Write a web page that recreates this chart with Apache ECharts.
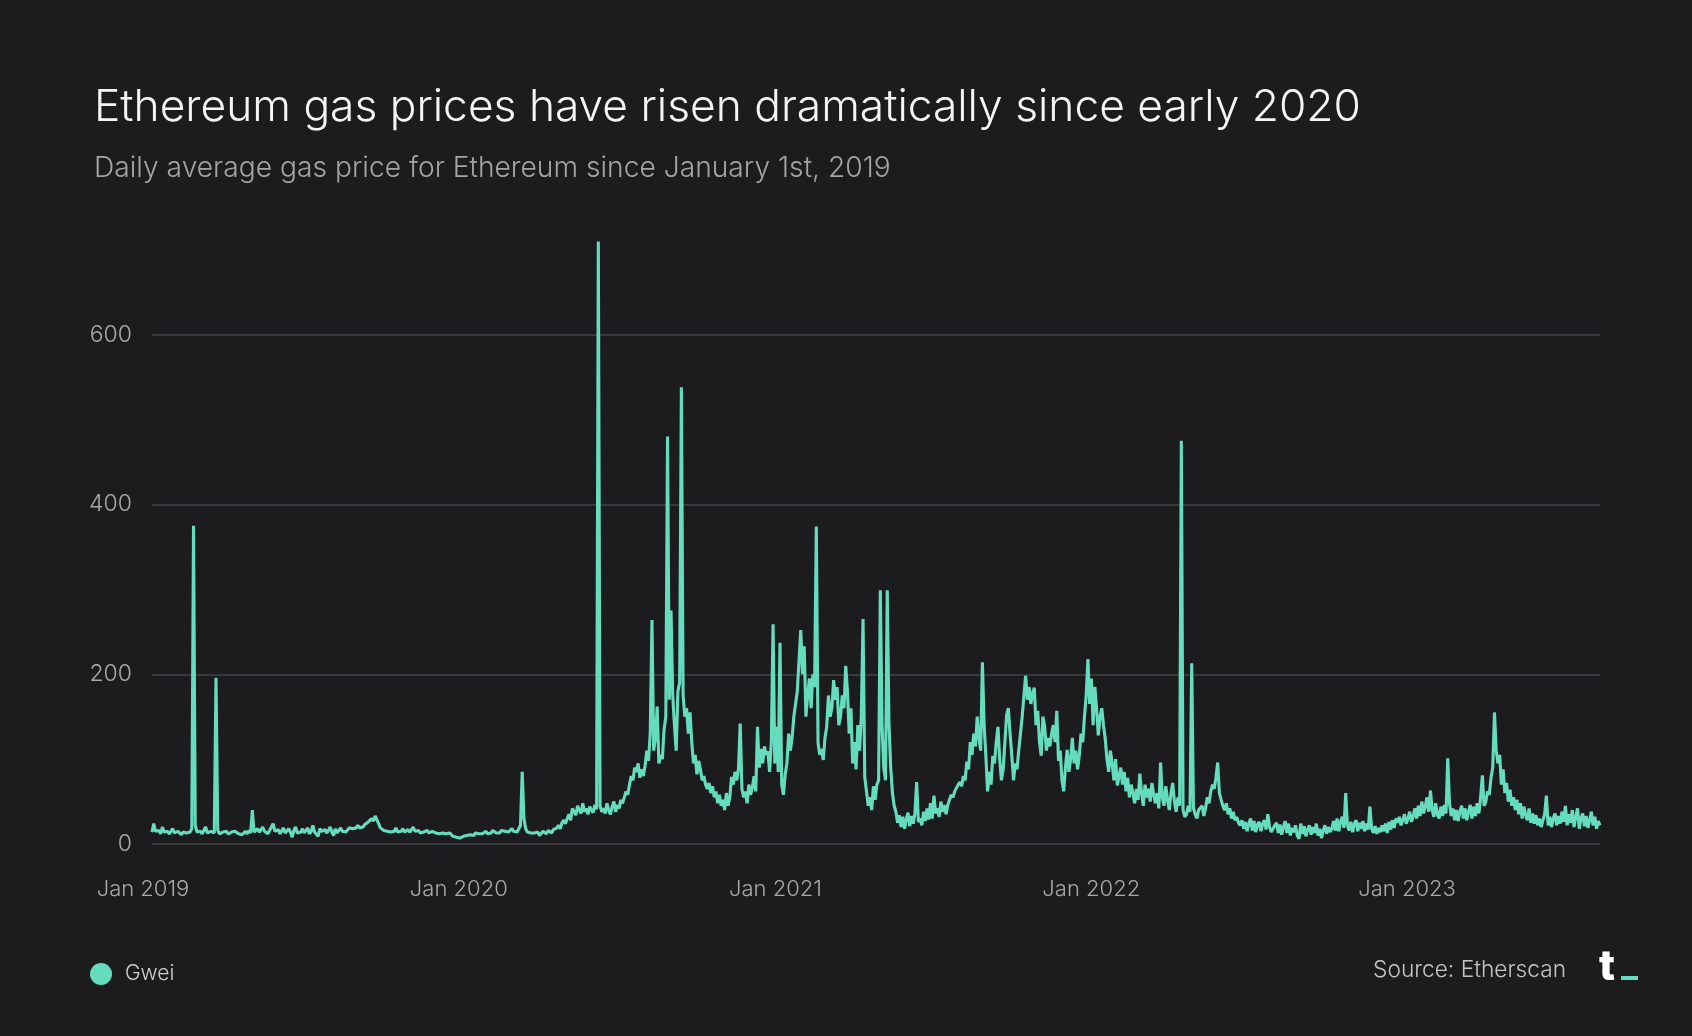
<!DOCTYPE html>
<html>
<head>
<meta charset="utf-8">
<script src="https://cdn.jsdelivr.net/npm/echarts@6/dist/echarts.min.js"></script>
<style>
html,body{margin:0;padding:0;background:#1c1c1e;}
#chart{width:1692px;height:1036px;}
</style>
</head>
<body>
<div id="chart"></div>
<script>
// ---- data ----
const titleText = 'Ethereum gas prices have risen dramatically since early 2020';
const subtitleText = 'Daily average gas price for Ethereum since January 1st, 2019';
const seriesName = 'Gwei';
const sourceText = 'Source: Etherscan';
const startDate = [2019, 0, 11];   // first sample (UTC)
const stepDays = 2;                // one sample every two days
const axisStart = [2019, 0, 1];
const axisEnd = [2023, 7, 12];
const yearTicks = [[2019,0,1],[2020,0,1],[2021,0,1],[2022,0,1],[2023,0,1]];
const yearLabels = ['Jan 2019','Jan 2020','Jan 2021','Jan 2022','Jan 2023'];
const yTicks = [0, 200, 400, 600];
const gwei = [
14,24,15,13,16,12,20,14,13,15,
12,14,18,13,12,15,13,11,14,16,
13,15,14,18,375,22,14,13,15,12,
14,20,13,12,15,14,13,196,16,12,
11,14,13,15,12,13,14,12,15,13,
12,14,11,13,15,12,16,13,40,14,
12,18,14,13,20,15,13,12,16,14,
24,15,13,17,12,14,19,13,15,18,
14,8,16,20,13,15,14,18,13,16,
19,12,15,22,14,16,9,18,15,14,
17,13,16,20,14,10,18,13,16,19,
15,17,14,16,19,17,18,20,19,22,
19,21,20,23,24,26,28,30,27,33,
31,24,19,17,16,18,15,17,14,16,
15,19,14,16,15,18,14,15,17,14,
16,20,15,14,16,13,15,14,12,16,
13,12,15,14,13,11,12,14,13,11,
12,10,13,11,9,10,8,9,7,8,
9,8,10,9,11,12,10,13,11,12,
14,12,13,15,12,14,13,16,14,13,
15,13,16,14,15,17,14,16,18,15,
16,14,18,22,85,30,18,14,12,13,
11,13,12,14,10,12,15,13,12,16,
14,13,17,15,19,22,18,25,28,24,
30,35,28,42,38,34,45,40,36,48,
38,42,35,44,40,37,46,41,710,45,
38,42,36,48,40,35,44,50,38,46,
42,52,48,55,62,58,70,80,75,90,
85,95,78,88,80,92,110,98,130,264,
110,125,162,95,105,100,135,150,480,170,
275,175,140,110,180,190,538,175,150,160,
130,155,120,95,105,82,98,88,75,80,
70,65,72,60,68,55,62,48,58,45,
52,40,60,45,55,79,70,85,75,88,
142,65,55,62,48,70,58,66,80,62,
138,90,112,95,115,105,109,85,120,259,
95,138,85,237,70,58,82,95,130,110,
125,150,165,180,178,252,200,233,150,175,
195,160,200,185,374,119,105,112,99,125,
138,175,150,160,193,170,185,140,150,175,
160,210,180,130,160,95,120,88,140,110,
150,265,79,62,45,55,40,68,52,70,
75,299,138,90,75,299,142,90,60,45,
38,25,34,20,32,18,29,37,21,33,
24,36,73,26,30,22,38,27,42,29,
48,30,57,36,42,32,50,38,46,35,
46,52,58,55,62,60,70,73,68,80,
75,97,88,120,105,130,115,150,125,110,
214,140,104,62,85,70,104,95,120,138,
100,75,88,120,152,160,130,104,75,95,
88,110,130,150,175,198,170,185,165,178,
184,140,157,120,104,150,138,110,125,115,
130,140,120,157,98,110,75,62,90,111,
85,100,125,95,110,88,104,130,120,150,
175,218,165,195,140,185,160,128,150,160,
140,124,100,85,110,95,75,100,69,80,
90,70,85,62,78,55,70,60,48,65,
52,83,60,45,70,55,65,50,72,58,
48,60,42,96,55,45,68,52,40,60,
72,50,38,55,45,475,40,32,35,45,
38,213,42,35,30,40,38,45,33,42,
55,48,62,70,65,78,96,60,52,45,
40,48,35,42,30,38,28,32,25,22,
28,18,26,15,24,30,16,27,14,23,
26,15,24,28,17,35,20,14,18,22,
25,13,23,11,20,27,13,24,10,19,
14,22,10,6,24,12,21,9,17,22,
11,20,13,24,10,18,7,16,22,12,
20,14,18,27,16,30,15,26,32,19,
60,22,16,26,14,24,28,15,25,18,
27,15,24,17,44,18,13,21,12,19,
14,22,15,24,13,26,17,28,19,30,
25,32,22,28,35,24,30,38,26,33,
42,30,45,33,50,36,44,55,38,63,
40,32,48,35,30,44,33,46,36,101,
48,33,42,28,40,27,38,45,30,42,
28,38,46,30,44,33,48,36,55,81,
45,50,62,58,78,90,155,110,95,105,
70,88,60,72,50,64,45,55,40,52,
35,48,30,44,34,28,42,25,36,24,
34,22,30,20,28,35,57,22,32,20,
30,36,22,33,24,38,26,45,22,35,
25,40,20,32,42,18,30,36,21,33,
19,28,38,22,32,18,27,22
];

// ---- build ----
const DAY = 86400000;
const utc = a => Date.UTC(a[0], a[1], a[2]);
const t0 = utc(startDate);
const seriesData = gwei.map((v, i) => [t0 + i * stepDays * DAY, v]);
const tickValues = yearTicks.map(utc);

const MINT = '#66dcbf';
const LABEL = '#a9a9ab';
const GRID = '#38383d';
const FONT = 'Inter, Roboto, "Noto Sans", sans-serif';

const chart = echarts.init(document.getElementById('chart'), null, {renderer: 'canvas'});
chart.setOption({
  backgroundColor: '#1c1c1e',
  animation: false,
  title: {
    text: titleText,
    subtext: subtitleText,
    left: 89,
    top: 81,
    itemGap: 25,
    textStyle: {color: '#f4f4f4', fontSize: 44.3, fontWeight: 300, fontFamily: FONT},
    subtextStyle: {color: '#a4a4a6', fontSize: 28.2, fontWeight: 300, fontFamily: FONT}
  },
  legend: {
    data: [seriesName],
    left: 85,
    top: 958,
    icon: 'circle',
    itemWidth: 22,
    itemHeight: 22,
    textStyle: {color: '#cfcfcf', fontSize: 21, fontWeight: 300, fontFamily: FONT, padding: [0, 0, 0, 8]}
  },
  grid: [
    {left: 152, right: 92, top: 165, bottom: 192},
    {left: 143, right: 92, top: 165, bottom: 192}
  ],
  xAxis: [
    {
      type: 'time', gridIndex: 0,
      min: t0, max: utc(axisEnd),
      axisLine: {show: false}, axisTick: {show: false},
      axisLabel: {show: false}, splitLine: {show: false}
    },
    {
      type: 'value', gridIndex: 1,
      min: utc(axisStart), max: utc(axisEnd),
      axisLine: {show: false}, axisTick: {show: false},
      splitLine: {show: false},
      axisLabel: {
        show: true,
        customValues: tickValues,
        color: LABEL, fontSize: 22, fontWeight: 300, fontFamily: FONT, margin: 34,
        showMinLabel: true, showMaxLabel: true,
        formatter: v => {
          const idx = tickValues.indexOf(v);
          return idx >= 0 ? yearLabels[idx] : '';
        }
      }
    }
  ],
  yAxis: [
    {
      type: 'value', gridIndex: 0,
      min: 0, max: 800, interval: 200,
      axisLine: {show: false}, axisTick: {show: false},
      axisLabel: {
        color: LABEL, fontSize: 23, fontWeight: 300, fontFamily: FONT, margin: 20,
        formatter: v => (yTicks.indexOf(v) >= 0 ? String(v) : '')
      },
      splitLine: {lineStyle: {color: [GRID, GRID, GRID, GRID, 'rgba(0,0,0,0)'], width: 2}}
    },
    {
      type: 'value', gridIndex: 1, min: 0, max: 800, show: false
    }
  ],
  series: [
    {
      name: seriesName,
      type: 'line',
      xAxisIndex: 0, yAxisIndex: 0,
      data: seriesData,
      showSymbol: false,
      symbol: 'circle',
      itemStyle: {color: MINT},
      lineStyle: {color: MINT, width: 3.1, join: 'bevel'},
      emphasis: {disabled: true}
    },
    {
      type: 'line', xAxisIndex: 1, yAxisIndex: 1, data: [], silent: true
    }
  ],
  graphic: [
    {
      type: 'text', right: 126, top: 959,
      style: {text: sourceText, fill: '#c4c4c6', font: '300 22.7px ' + FONT}
    },
    {
      type: 'text', left: 1599, top: 946,
      style: {text: 't', fill: '#ffffff', font: '800 42px Inter, Roboto, sans-serif'}
    },
    {
      type: 'rect', left: 1621, top: 976,
      shape: {width: 17, height: 4},
      style: {fill: MINT}
    }
  ]
});
</script>
</body>
</html>
